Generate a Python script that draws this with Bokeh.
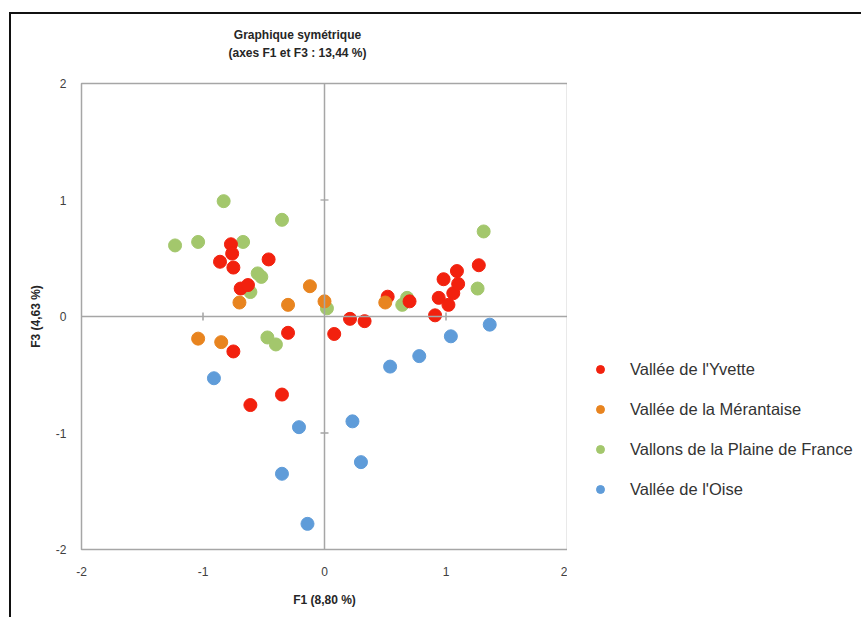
from bokeh.plotting import figure
from bokeh.layouts import column, row
from bokeh.models import Span, Legend, LegendItem, FixedTicker, Range1d
from bokeh.core.properties import value
from bokeh.embed import file_html
from bokeh.resources import INLINE

# ---- data -------------------------------------------------------------
title_lines = ["Graphique symétrique", "(axes F1 et F3 : 13,44 %)"]
x_label = "F1 (8,80 %)"
y_label = "F3 (4,63 %)"
ticks = [-2, -1, 0, 1, 2]
tick_labels = ["-2", "-1", "0", "1", "2"]
minor_marks = [-1, 1]

series_names = ["Vallée de l'Yvette", "Vallée de la Mérantaise",
                "Vallons de la Plaine de France", "Vallée de l'Oise"]

yvette_x = [-0.77, -0.76, -0.86, -0.75, -0.46, -0.69, -0.63, -0.30, -0.75, -0.35, -0.61,
            0.08, 0.21, 0.33, 0.52, 0.70, 0.91, 0.94, 1.02, 1.06, 1.10, 1.09, 0.98, 1.27]
yvette_y = [0.62, 0.54, 0.47, 0.42, 0.49, 0.24, 0.27, -0.14, -0.30, -0.67, -0.76,
            -0.15, -0.02, -0.04, 0.17, 0.13, 0.01, 0.16, 0.10, 0.20, 0.28, 0.39, 0.32, 0.44]

merantaise_x = [-0.12, 0.00, -0.30, -0.70, -1.04, -0.85, 0.50]
merantaise_y = [0.26, 0.13, 0.10, 0.12, -0.19, -0.22, 0.12]

plaine_x = [-0.83, -0.35, -1.23, -1.04, -0.67, -0.55, -0.52, -0.61, -0.47, -0.40,
            0.02, 0.68, 0.64, 1.26, 1.31]
plaine_y = [0.99, 0.83, 0.61, 0.64, 0.64, 0.37, 0.34, 0.21, -0.18, -0.24,
            0.07, 0.16, 0.10, 0.24, 0.73]

oise_x = [-0.91, -0.21, -0.35, -0.14, 0.23, 0.30, 0.54, 0.78, 1.04, 1.36]
oise_y = [-0.53, -0.95, -1.35, -1.78, -0.90, -1.25, -0.43, -0.34, -0.17, -0.07]

colors = ["#F2210E", "#E8841F", "#A3C76C", "#5F9CD9"]

FONT = "Liberation Sans"
BORDER = "2px solid #111111"
NAN = float("nan")

# ---- header (title) ---------------------------------------------------
HW, HH = 852, 60
header = figure(width=HW, height=HH, x_range=Range1d(0, HW), y_range=Range1d(0, HH),
                output_backend="svg", toolbar_location=None,
                x_axis_location=None, y_axis_location=None, min_border=0)
header.outline_line_color = None
header.grid.visible = False
header.styles = {"border-left": BORDER, "border-top": BORDER,
                 "margin-left": "9px", "margin-top": "12px"}
header.text(x=[286, 286], y=[40, 22], text=title_lines,
            text_align="center", text_baseline="middle",
            text_font=value(FONT), text_font_size="12px", text_font_style="bold",
            text_color="#262626")

# ---- main figure ------------------------------------------------------
PH = 545
p = figure(width=558, height=PH, x_range=Range1d(-2, 2), y_range=Range1d(-2, 2),
           output_backend="svg", toolbar_location=None,
           min_border_left=70, min_border_top=11, min_border_right=2, min_border_bottom=68)
p.styles = {"border-left": BORDER, "margin-left": "9px"}

p.background_fill_color = "white"
p.border_fill_color = "white"
p.outline_line_color = "#A6A6A6"
p.outline_line_width = 1.5
p.xgrid.visible = False
p.ygrid.visible = False

for ax in (p.xaxis[0], p.yaxis[0]):
    ax.ticker = FixedTicker(ticks=ticks)
    ax.major_label_overrides = {t: s for t, s in zip(ticks, tick_labels)}
    ax.axis_line_color = None
    ax.major_tick_line_color = None
    ax.minor_tick_line_color = None
    ax.major_tick_out = 0
    ax.major_tick_in = 0
    ax.major_label_text_font = FONT
    ax.major_label_text_font_size = "12px"
    ax.major_label_text_color = "#404040"
    ax.axis_label_text_font = FONT
    ax.axis_label_text_font_size = "12px"
    ax.axis_label_text_font_style = "bold"
    ax.axis_label_text_color = "#262626"

p.xaxis[0].axis_label = x_label
p.yaxis[0].axis_label = y_label
p.xaxis[0].major_label_standoff = 17
p.xaxis[0].axis_label_standoff = 14
p.yaxis[0].major_label_standoff = 15
p.yaxis[0].axis_label_standoff = 10

# zero lines
p.add_layout(Span(location=0, dimension="width", line_color="#A6A6A6", line_width=1.5))
p.add_layout(Span(location=0, dimension="height", line_color="#A6A6A6", line_width=1.5))
# small tick marks crossing the zero lines
p.scatter(minor_marks, [0] * len(minor_marks), marker="dash", angle=1.5708,
          size=8, line_color="#8C8C8C", line_width=1.2)
p.scatter([0] * len(minor_marks), minor_marks, marker="dash",
          size=8, line_color="#8C8C8C", line_width=1.2)

# series (draw order: green, blue, red, orange)
p.scatter(plaine_x, plaine_y, size=13, fill_color=colors[2], line_color=colors[2])
p.scatter(oise_x, oise_y, size=13, fill_color=colors[3], line_color=colors[3])
p.scatter(yvette_x, yvette_y, size=13, fill_color=colors[0], line_color=colors[0])
p.scatter(merantaise_x, merantaise_y, size=13, fill_color=colors[1], line_color=colors[1])

# ---- legend panel (separate canvas to the right) ----------------------
LW = 294
lf = figure(width=LW, height=PH, x_range=Range1d(0, LW), y_range=Range1d(0, PH),
            output_backend="svg", toolbar_location=None,
            x_axis_location=None, y_axis_location=None, min_border=0)
lf.outline_line_color = None
lf.grid.visible = False
items = []
for name, c in zip(series_names, colors):
    # proxy renderer (NaN point, never drawn) that only supplies the legend swatch
    r = lf.scatter([NAN], [NAN], size=13, fill_color=c, line_color=c)
    items.append(LegendItem(label=name, renderers=[r]))
legend = Legend(items=items, location=(23, 50), padding=0, margin=0, spacing=20,
                glyph_width=20, glyph_height=20, label_height=20, label_standoff=20,
                border_line_color=None, background_fill_alpha=0,
                label_text_font=FONT, label_text_font_size="16.5px", label_text_color="#333333")
lf.add_layout(legend)

layout = column(header, row(p, lf, spacing=0), spacing=0)
open("out.html", "w").write(file_html(layout, INLINE))
